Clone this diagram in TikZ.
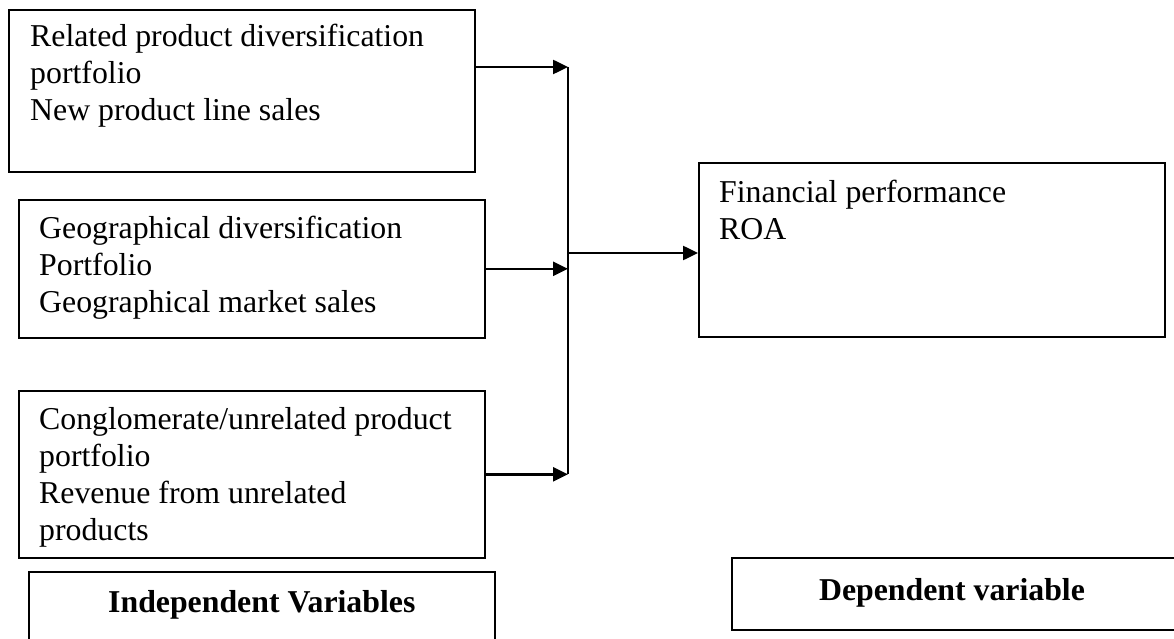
\documentclass[tikz,border=0pt]{standalone}
\usepackage{fontspec}
\setmainfont{Liberation Serif}
\usetikzlibrary{arrows.meta,calc}
\tikzset{
  box/.style={draw=black, line width=1.6pt, inner sep=0pt, anchor=north west},
  txt/.style={inner sep=0pt, anchor=base west, font=\fontsize{31.8}{37}\selectfont},
  ttl/.style={inner sep=0pt, anchor=base, font=\fontsize{31.8}{37}\selectfont\bfseries},
  arr/.style={line width=2.5pt, -{Triangle[length=15pt,width=14pt]}},
  link/.style={line width=2.5pt}
}
\newcommand{\lines}[1]{\begin{tabular}[t]{@{}l@{}}#1\end{tabular}}
\begin{document}
\begin{tikzpicture}[x=1pt,y=-1pt]
\clip (0,0) rectangle (1174,639);
\fill[white] (0,0) rectangle (1174,639);
% boxes
\node[box, minimum width=466pt, minimum height=162pt] (b1) at (8,9) {};
\node[box, minimum width=466pt, minimum height=138pt] (b2) at (18,199) {};
\node[box, minimum width=466pt, minimum height=167pt] (b3) at (18,390) {};
\node[box, minimum width=466pt, minimum height=174pt] (b4) at (698,162) {};
\node[box, minimum width=466pt, minimum height=90pt] (iv) at (28,571) {};
\node[box, minimum width=445pt, minimum height=72pt] (dv) at (731,557) {};
% texts
\node[txt] (t1) at (30,47) {\lines{Related product diversification\\portfolio\\New product line sales}};
\node[txt] (t2) at (39,238) {\lines{Geographical diversification\\Portfolio\\Geographical market sales}};
\node[txt] (t3) at (39,429) {\lines{Conglomerate/unrelated product\\portfolio\\Revenue from unrelated\\products}};
\node[txt] (t4) at (719,202) {\lines{Financial performance\\ROA}};
\node[ttl] (t5) at ($(iv.north)+(0,41)$) {Independent Variables};
\node[ttl] (t6) at (952,600) {Dependent variable};
% junction points
\coordinate (j1) at (568,67);
\coordinate (j2) at (j1 |- b2.east);
\coordinate (j3) at (j1 |- b3.east);
\coordinate (j0) at (568,253);
% connectors
\draw[link] (j1) -- (j3);
\draw[arr] (j1 -| b1.east) -- (j1);
\draw[arr] (b2.east) -- (j2);
\draw[arr] (b3.east) -- (j3);
\draw[arr] (j0) -- (j0 -| b4.west);
\end{tikzpicture}
\end{document}
